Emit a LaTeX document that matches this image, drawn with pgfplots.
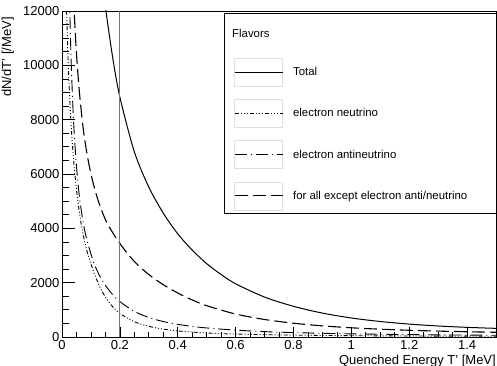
\documentclass[border=0pt]{standalone}
\usepackage{fontspec}
\setmainfont{Liberation Sans}
\usepackage{pgfplots}
\pgfplotsset{compat=1.18}
\begin{document}
\begin{tikzpicture}
\path[use as bounding box] (0,0) rectangle (497bp,366bp);
\begin{axis}[
  at={(62bp,29bp)}, anchor=south west,
  scale only axis, width=434bp, height=326bp,
  xmin=0, xmax=1.5, ymin=0, ymax=12000,
  xtick={0,0.2,0.4,0.6,0.8,1,1.2,1.4},
  ytick={0,2000,4000,6000,8000,10000,12000},
  minor x tick num=3, minor y tick num=3,
  tick pos=left, tick align=inside,
  xtick style={black, line width=0.7bp, /pgfplots/major tick length=10bp, /pgfplots/minor tick length=5bp},
  ytick style={black, line width=0.7bp, /pgfplots/major tick length=13bp, /pgfplots/minor tick length=6.5bp},
  axis line style={line width=0.8bp},
  scaled ticks=false,
  /pgf/number format/assume math mode=true,
  /pgf/number format/1000 sep={},
  ticklabel style={font=\fontsize{13bp}{15bp}\selectfont},
  yticklabel style={inner xsep=2.5bp},
  xlabel={Quenched Energy T' [MeV]},
  xlabel style={at={(axis description cs:1,-0.0552)}, anchor=north east, inner sep=0pt, font=\fontsize{13bp}{15bp}\selectfont},
  ylabel={dN/dT' [/MeV]},
  ylabel style={at={(axis description cs:-0.1106,0.9816)}, anchor=south east, inner sep=0pt, font=\fontsize{13bp}{15bp}\selectfont},
  legend style={at={(rel axis cs:0.3963,0.8558)}, anchor=north west, draw=none, fill=none,
    inner sep=0pt, outer sep=0pt, row sep=12.7bp, column sep=10bp,
    font=\fontsize{11.4bp}{13bp}\selectfont, cells={anchor=west}, nodes={inner sep=0pt}},
  legend image code/.code={\draw[black!12, solid, line width=0.5bp] (0bp,-14bp) rectangle (48bp,14bp); \draw[#1] (0bp,0bp) -- (48bp,0bp);},
]
\addplot[black, line width=1bp, smooth] coordinates {
(0.14,13100) (0.15,12150) (0.175,10300) (0.2,8834) (0.25,6820) (0.3,5520) (0.35,4560)
(0.4,3800) (0.45,3200) (0.5,2700) (0.55,2300) (0.6,1960) (0.7,1470) (0.8,1130)
(0.9,880) (1.0,700) (1.1,570) (1.2,475) (1.3,405) (1.4,355) (1.5,318)};
\addlegendentry{Total}
\addplot[black, line width=0.9bp, smooth, dash pattern=on 4bp off 2bp on 1bp off 2bp on 1bp off 2bp on 1bp off 2bp] coordinates {
(0.012,14200) (0.016,12000) (0.022,9910) (0.03,8100) (0.039,6650) (0.05,5430) (0.06,4600)
(0.07,3940) (0.085,3215) (0.108,2440) (0.13,1864) (0.15,1473) (0.175,1117) (0.2,867)
(0.25,561) (0.3,393) (0.35,291) (0.4,224) (0.5,148) (0.6,108) (0.8,68) (1.0,49) (1.25,35) (1.5,28)};
\addlegendentry{electron neutrino}
\addplot[black, line width=0.9bp, smooth, dash pattern=on 12bp off 4bp on 1bp off 4bp] coordinates {
(0.023,14100) (0.027,12000) (0.032,10040) (0.04,7940) (0.05,6290) (0.062,5010)
(0.08,3840) (0.108,2790) (0.13,2255) (0.15,1900) (0.175,1560) (0.2,1303) (0.25,943) (0.3,717)
(0.35,569) (0.4,466) (0.45,390) (0.5,333) (0.6,253) (0.7,198) (0.8,162) (0.9,136) (1.0,116) (1.2,88) (1.5,63)};
\addlegendentry{electron antineutrino}
\addplot[black, line width=1.1bp, smooth, dash pattern=on 13bp off 5bp] coordinates {
(0.035,13840) (0.042,12000) (0.05,10440) (0.06,9030) (0.073,7700) (0.085,6830) (0.1,6000)
(0.12,5190) (0.14,4580) (0.16,4110) (0.2,3440) (0.25,2780) (0.3,2300) (0.35,1925) (0.4,1620)
(0.45,1365) (0.5,1153) (0.6,845) (0.7,645) (0.8,507) (0.9,410) (1.0,339) (1.1,287) (1.2,248) (1.3,217) (1.4,193) (1.5,174)};
\addlegendentry{for all except electron anti/neutrino}
\addplot[black!55, line width=1bp, forget plot] coordinates {(0.2,0) (0.2,12000)};
\draw[fill=white, line width=0.8bp] (rel axis cs:0.3733,0.9939) rectangle (rel axis cs:1,0.3804);
\node[anchor=base west, inner sep=0pt, font=\fontsize{11.4bp}{13bp}\selectfont] at (rel axis cs:0.3917,0.9202) {Flavors};
\end{axis}
\end{tikzpicture}
\end{document}
